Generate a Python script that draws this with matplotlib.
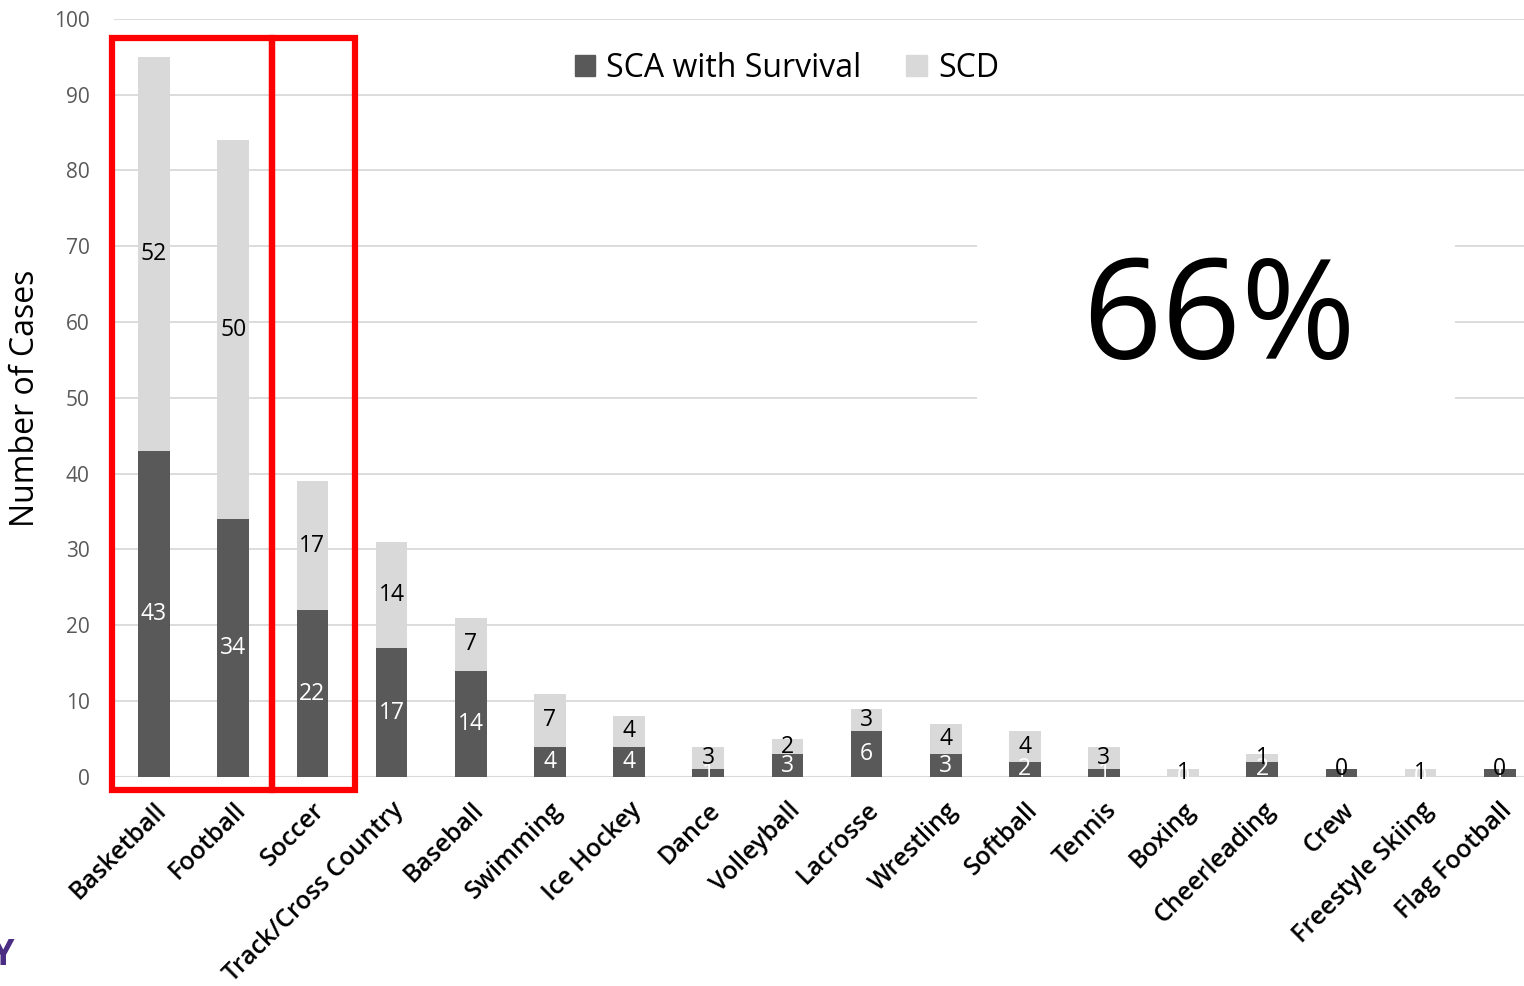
import numpy as np
import matplotlib.pyplot as plt
from matplotlib.patches import Rectangle, Patch

sports = ['Basketball', 'Football', 'Soccer', 'Track/Cross Country', 'Baseball',
          'Swimming', 'Ice Hockey', 'Dance', 'Volleyball', 'Lacrosse', 'Wrestling',
          'Softball', 'Tennis', 'Boxing', 'Cheerleading', 'Crew', 'Freestyle Skiing',
          'Flag Football']
sca_survival = [43, 34, 22, 17, 14, 4, 4, 1, 3, 6, 3, 2, 1, 0, 2, 1, 0, 1]
scd = [52, 50, 17, 14, 7, 7, 4, 3, 2, 3, 4, 4, 3, 1, 1, 0, 1, 0]

dark = '#595959'
light = '#d9d9d9'
plt.rcParams['font.family'] = ['Open Sans', 'DejaVu Sans']

fig = plt.figure(figsize=(15.24, 9.86), dpi=100)
ax = fig.add_axes([0.0751, 0.212, 0.935, 0.769])

x = np.arange(len(sports))
w = 0.4
b1 = ax.bar(x, sca_survival, w, color=dark, zorder=3)
b2 = ax.bar(x, scd, w, bottom=sca_survival, color=light, zorder=3)
ax.bar_label(b1, labels=[str(v) for v in sca_survival], label_type='center',
             color='white', fontsize=16.5, zorder=4)
ax.bar_label(b2, labels=[str(v) for v in scd], label_type='center',
             color='black', fontsize=16.5, zorder=4)

ax.set_xlim(-0.5, len(sports) - 0.5)
ax.set_ylim(0, 100)
ax.set_yticks(range(0, 101, 10))
ax.tick_params(axis='y', length=0, pad=18, labelsize=15, labelcolor='#595959')
ax.tick_params(axis='x', length=0, pad=15)
ax.set_xticks(x)
ax.set_xticklabels(sports, rotation=45, ha='right', rotation_mode='anchor',
                   fontsize=18, fontweight='semibold')
ax.grid(axis='y', color=light, linewidth=1.3, zorder=0)
for s in ax.spines.values():
    s.set_visible(False)
ax.axhline(0, color=light, linewidth=1.5, zorder=2)
ax.set_ylabel('Number of Cases', fontsize=23)
ax.yaxis.set_label_coords(-0.051, 0.5)

handles = [Patch(color=dark, label='SCA with Survival'), Patch(color=light, label='SCD')]
ax.legend(handles=handles, loc='center', bbox_to_anchor=(0.472, 0.935), ncol=2,
          frameon=False, fontsize=23, handlelength=0.65, handleheight=0.65,
          handletextpad=0.35, columnspacing=1.4)

# white panel behind the percentage
ax.add_patch(Rectangle((10.39, 49), 6.05, 22, facecolor='white', edgecolor='none',
                       zorder=2))
ax.text(13.45, 60.0, '66%', fontsize=100, ha='center', va='center', zorder=5)

# highlight boxes
for x0, x1 in [(-0.53, 1.49), (1.49, 2.54)]:
    ax.add_patch(Rectangle((x0, -1.7), x1 - x0, 99.2, fill=False, edgecolor='#ff0000',
                           linewidth=4.5, clip_on=False, zorder=6))

fig.text(-0.006, 0.012, 'Y', color='#4b2e83', fontsize=26, fontweight='bold',
         ha='left', va='bottom')

fig.savefig('out.png', dpi=100)
